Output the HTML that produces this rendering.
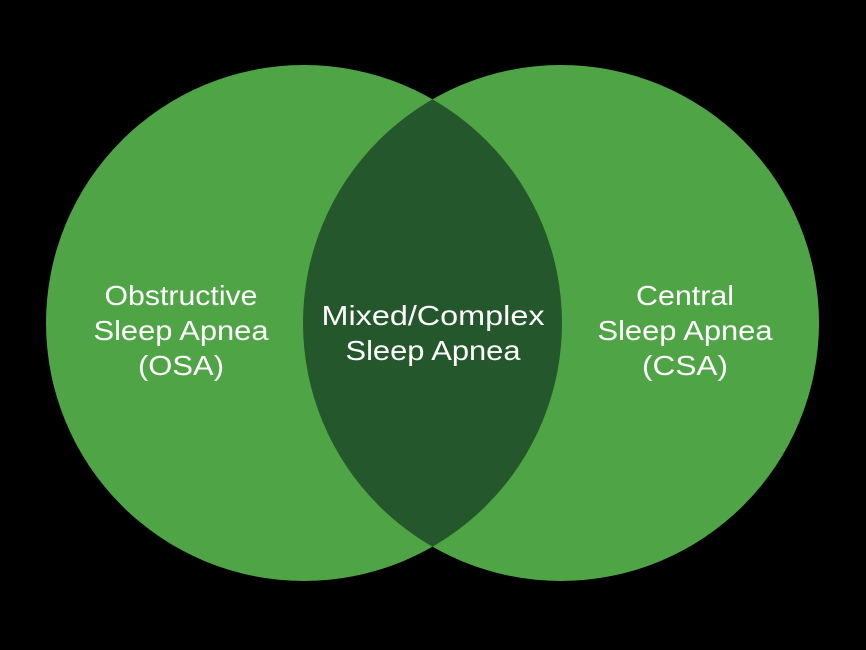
<!DOCTYPE html>
<html><head><style>html,body{margin:0;padding:0;background:#000;}svg{display:block}</style></head>
<body>
<svg width="866" height="650" viewBox="0 0 866 650" xmlns="http://www.w3.org/2000/svg">
<defs><clipPath id="c"><circle cx="304" cy="323" r="258"/></clipPath></defs>
<rect width="866" height="650" fill="#000"/>
<circle cx="304" cy="323" r="258" fill="#4fa546"/>
<circle cx="561" cy="323" r="258" fill="#4fa546"/>
<circle cx="561" cy="323" r="258" fill="#24572b" clip-path="url(#c)"/>
<g font-family="Liberation Sans, sans-serif" font-size="28" fill="#fff" text-anchor="middle">
<text x="181" y="305" textLength="153" lengthAdjust="spacingAndGlyphs">Obstructive</text>
<text x="181" y="340" textLength="175" lengthAdjust="spacingAndGlyphs">Sleep Apnea</text>
<text x="181" y="375" textLength="86" lengthAdjust="spacingAndGlyphs">(OSA)</text>
<text x="433" y="325" textLength="223" lengthAdjust="spacingAndGlyphs">Mixed/Complex</text>
<text x="433" y="360" textLength="175" lengthAdjust="spacingAndGlyphs">Sleep Apnea</text>
<text x="685" y="305" textLength="98" lengthAdjust="spacingAndGlyphs">Central</text>
<text x="685" y="340" textLength="175" lengthAdjust="spacingAndGlyphs">Sleep Apnea</text>
<text x="685" y="375" textLength="86" lengthAdjust="spacingAndGlyphs">(CSA)</text>
</g>
</svg>
</body></html>
